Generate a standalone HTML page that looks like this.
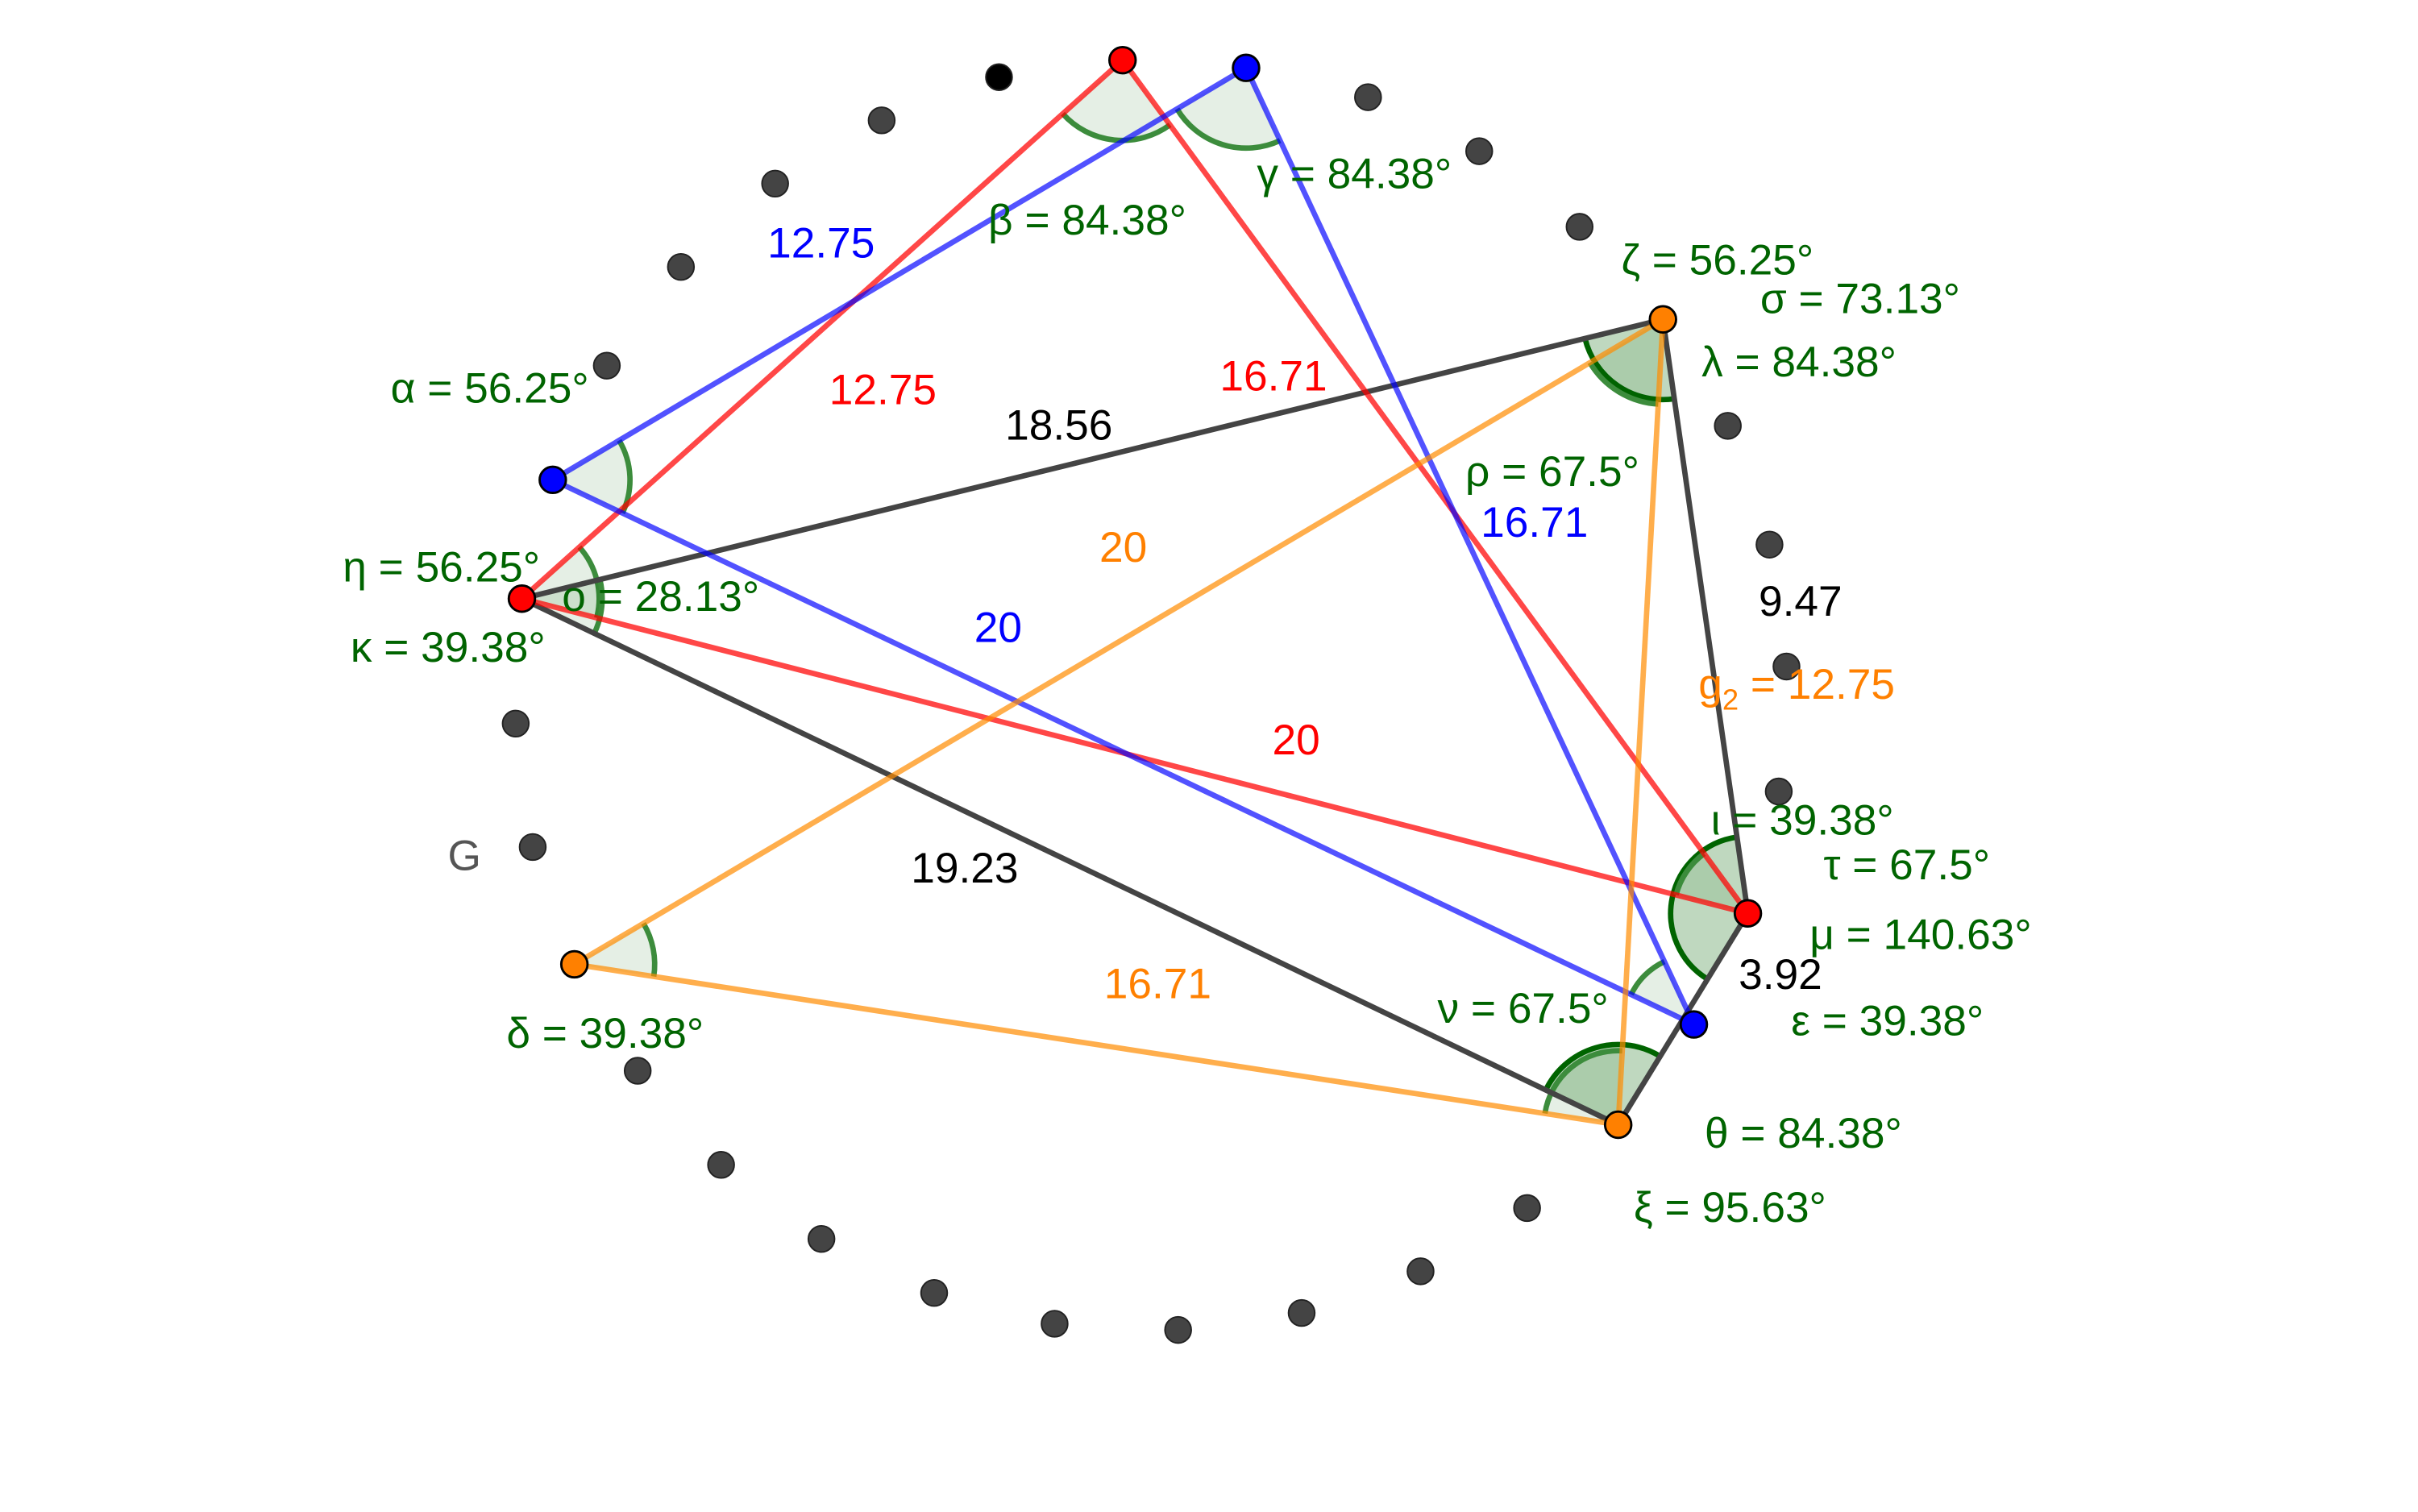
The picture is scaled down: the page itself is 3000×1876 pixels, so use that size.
<!DOCTYPE html>
<html><head><meta charset="utf-8"><style>
html,body{margin:0;padding:0;background:#fff;}
svg{display:block;}
text{font-family:"Liberation Sans",sans-serif;font-size:27.8px;}
</style></head><body>
<svg id="s" width="3000" height="1876" viewBox="0 0 1566 980" preserveAspectRatio="none" xmlns="http://www.w3.org/2000/svg">
<g id="arcs"></g>
<g id="lines" stroke-width="3.5" fill="none"></g>
<g id="dots"></g>
<g id="labels">
<text x="640" y="152" fill="#006400">β = 84.38°</text>
<text x="814" y="122" fill="#006400">γ = 84.38°</text>
<text x="497" y="167" fill="#0000ff">12.75</text>
<text x="1050" y="178" fill="#006400">ζ = 56.25°</text>
<text x="1140" y="203" fill="#006400">σ = 73.13°</text>
<text x="1102" y="244" fill="#006400">λ = 84.38°</text>
<text x="253" y="261" fill="#006400">α = 56.25°</text>
<text x="537" y="262" fill="#ff0000">12.75</text>
<text x="790" y="253" fill="#ff0000">16.71</text>
<text x="651" y="285" fill="#000">18.56</text>
<text x="949" y="315" fill="#006400">ρ = 67.5°</text>
<text x="959" y="348" fill="#0000ff">16.71</text>
<text x="712" y="364" fill="#ff8000">20</text>
<text x="222" y="377" fill="#006400">η = 56.25°</text>
<text x="364" y="396" fill="#006400">ο = 28.13°</text>
<text x="1139" y="399" fill="#000">9.47</text>
<text x="631" y="416" fill="#0000ff">20</text>
<text x="227" y="429" fill="#006400">κ = 39.38°</text>
<text x="1100" y="453" fill="#ff8000">g<tspan font-size="19" dy="7">2</tspan><tspan dy="-7"> = 12.75</tspan></text>
<text x="824" y="489" fill="#ff0000">20</text>
<text x="1108" y="541" fill="#006400">ι = 39.38°</text>
<text x="290" y="564" fill="#555">G</text>
<text x="590" y="572" fill="#000">19.23</text>
<text x="1181" y="570" fill="#006400">τ = 67.5°</text>
<text x="1172" y="615" fill="#006400">μ = 140.63°</text>
<text x="1126" y="641" fill="#000">3.92</text>
<text x="715" y="647" fill="#ff8000">16.71</text>
<text x="931" y="663" fill="#006400">ν = 67.5°</text>
<text x="1160" y="671" fill="#006400">ε = 39.38°</text>
<text x="328" y="679" fill="#006400">δ = 39.38°</text>
<text x="1104" y="744" fill="#006400">θ = 84.38°</text>
<text x="1058" y="792" fill="#006400">ξ = 95.63°</text>
</g>
</svg>
<script>
var P={R1:[727,39],R2:[338,388],R3:[1132,592],B1:[807,44],B2:[358,311],B3:[1097,664],O1:[1077,207],O2:[372,625],O3:[1048,729]};
var ns="http://www.w3.org/2000/svg";
function el(t,a,p){var e=document.createElementNS(ns,t);for(var k in a)e.setAttribute(k,a[k]);document.getElementById(p).appendChild(e);return e;}
function arc(v,a,b,r,dark){var V=P[v],A=P[a],B=P[b];
var u1=[A[0]-V[0],A[1]-V[1]],u2=[B[0]-V[0],B[1]-V[1]];
var l1=Math.hypot(u1[0],u1[1]),l2=Math.hypot(u2[0],u2[1]);
u1=[u1[0]/l1,u1[1]/l1];u2=[u2[0]/l2,u2[1]/l2];
var cr=u1[0]*u2[1]-u1[1]*u2[0];var sw=cr>0?1:0;
var x1=V[0]+r*u1[0],y1=V[1]+r*u1[1],x2=V[0]+r*u2[0],y2=V[1]+r*u2[1];
el("path",{d:"M"+V[0]+" "+V[1]+"L"+x1+" "+y1+"A"+r+" "+r+" 0 0 "+sw+" "+x2+" "+y2+"Z",fill:dark?"rgba(0,100,0,0.25)":"rgba(0,100,0,0.1)",stroke:"none"},"arcs");
el("path",{d:"M"+x1+" "+y1+"A"+r+" "+r+" 0 0 "+sw+" "+x2+" "+y2,fill:"none",stroke:dark?"#006400":"#3c8c3c","stroke-width":3.5},"arcs");}
arc("R1","R2","R3",52);arc("B1","B2","B3",52);arc("B2","B1","B3",50);
arc("R2","R1","R3",50);arc("R2","O1","O3",52);arc("O2","O1","O3",52);
arc("O1","R2","R3",52,1);arc("O1","O2","O3",55);arc("R3","O1","O3",50,1);arc("R3","R1","R2",48);
arc("O3","R2","R3",52,1);arc("O3","O1","O2",48);arc("B3","B1","B2",45);
function ln(a,b,c){el("line",{x1:P[a][0],y1:P[a][1],x2:P[b][0],y2:P[b][1],stroke:c},"lines");}
var K="#444",R="rgba(255,0,0,0.72)",B="rgba(0,0,255,0.68)",O="rgba(255,140,0,0.7)";
ln("R2","O1",K);ln("R2","O3",K);ln("O1","R3",K);ln("R3","O3",K);
ln("R1","R2",R);ln("R1","R3",R);ln("R2","R3",R);
ln("B1","B2",B);ln("B1","B3",B);ln("B2","B3",B);
ln("O1","O2",O);ln("O1","O3",O);ln("O2","O3",O);
var D=[[647,50,"#000"],[571,78],[502,119],[441,173],[393,237],[334,469],[345,549],[413,694],[467,755],[532,803],[605,838],[683,858],[763,862],[843,851],[920,824],[989,783],[1152,513],[1157,432],[1146,353],[1119,276],[1023,147],[958,98],[886,63]];
D.forEach(function(d){el("circle",{cx:d[0],cy:d[1],r:8.5,fill:d[2]||"#444",stroke:"#222","stroke-width":1},"dots");});
var C={R:"#ff0000",B:"#0000ff",O:"#ff8000"};
for(var k in P){el("circle",{cx:P[k][0],cy:P[k][1],r:8.5,fill:C[k[0]],stroke:"#000","stroke-width":1.5},"dots");}
</script>
</body></html>
